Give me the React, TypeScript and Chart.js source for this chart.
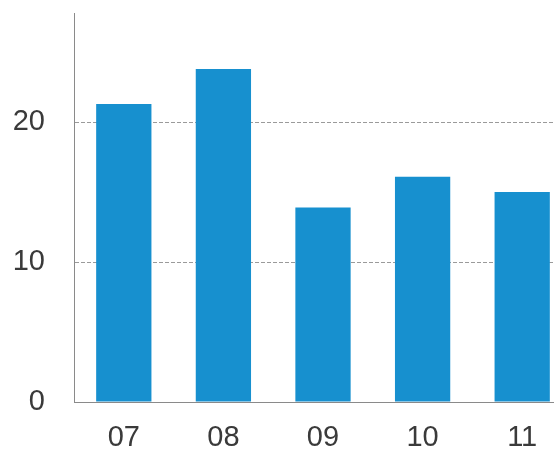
import React, { useEffect, useRef } from "react";
import { Chart, registerables } from "chart.js";

Chart.register(...registerables);

const categories = ["07", "08", "09", "10", "11"];
const values = [21.3, 23.8, 13.9, 16.1, 15.0];
const yTicks = [0, 10, 20];
const yMax = 27.8;

const BAR_COLOR = "#1790cf";
const AXIS_COLOR = "#8a8a8a";
const TEXT_COLOR = "#3a3a3a";
const FONT = { family: "'Liberation Sans', Arial, sans-serif", size: 29 };

export default function App() {
  const canvasRef = useRef<HTMLCanvasElement | null>(null);

  useEffect(() => {
    const canvas = canvasRef.current;
    if (!canvas) return;
    const chart = new Chart(canvas, {
      type: "bar",
      data: {
        labels: categories,
        datasets: [
          {
            data: values,
            backgroundColor: BAR_COLOR,
            borderWidth: 0,
            categoryPercentage: 1,
            barPercentage: 0.555,
          },
        ],
      },
      options: {
        responsive: false,
        animation: false,
        devicePixelRatio: 1,
        layout: { padding: { top: 13, right: 28, bottom: 0, left: 0 } },
        plugins: {
          legend: { display: false },
          tooltip: { enabled: false },
        },
        scales: {
          x: {
            grid: { display: false, drawTicks: false },
            border: { display: true, color: AXIS_COLOR, width: 1 },
            ticks: { color: TEXT_COLOR, padding: 19, font: FONT },
            afterFit: (scale: any) => {
              scale.height = 52;
              scale.paddingLeft = 0;
              scale.paddingRight = 0;
            },
          },
          y: {
            min: 0,
            max: yMax,
            afterBuildTicks: (scale: any) => {
              scale.ticks = yTicks.map((v) => ({ value: v }));
            },
            grid: {
              drawTicks: false,
              color: (ctx: any) =>
                ctx.tick && ctx.tick.value === 0 ? "rgba(0,0,0,0)" : "#9a9a9a",
              lineWidth: 1,
            },
            border: { display: true, color: AXIS_COLOR, width: 1, dash: [4, 2] },
            ticks: { color: TEXT_COLOR, padding: 29, font: FONT },
            afterFit: (scale: any) => {
              scale.width = 74;
              scale.paddingTop = 0;
              scale.paddingBottom = 0;
            },
          },
        },
      },
    });
    return () => chart.destroy();
  }, []);

  return (
    <div
      style={{
        position: "absolute",
        left: 0,
        top: 0,
        width: 554,
        height: 454,
        overflow: "hidden",
        background: "#ffffff",
      }}
    >
      <canvas ref={canvasRef} width={600} height={454} />
    </div>
  );
}
